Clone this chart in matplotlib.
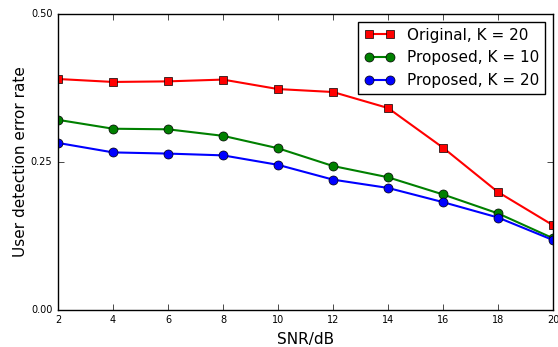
import numpy as np
from matplotlib import pyplot as plt

snr = [2, 4, 6, 8, 10, 12, 14, 16, 18, 20]
original_k20 = [0.390, 0.385, 0.386, 0.389, 0.373, 0.368, 0.341, 0.274, 0.199, 0.143]
proposed_k10 = [0.321, 0.306, 0.305, 0.294, 0.273, 0.243, 0.224, 0.195, 0.163, 0.121]
proposed_k20 = [0.282, 0.266, 0.264, 0.261, 0.245, 0.220, 0.206, 0.182, 0.156, 0.118]
y_ticks = [0.00, 0.25, 0.50]

plt.style.use('classic')
fig = plt.figure(figsize=(5.58, 3.47), dpi=100, facecolor='white')
ax = fig.add_axes([0.104, 0.107, 0.887, 0.853])

ax.plot(snr, original_k20, 'r-s', lw=1.5, ms=6, mec='k', label='Original, K = 20')
ax.plot(snr, proposed_k10, 'g-o', lw=1.5, ms=6.5, mec='k', label='Proposed, K = 10')
ax.plot(snr, proposed_k20, 'b-o', lw=1.5, ms=6.5, mec='k', label='Proposed, K = 20')

ax.set_xlim(2, 20)
ax.set_ylim(0, 0.5)
ax.set_xticks(snr)
ax.set_yticks(y_ticks)
ax.set_yticklabels([f"{t:.2f}" for t in y_ticks])
ax.tick_params(labelsize=7, direction='in', top=True, right=True)
ax.set_xlabel('SNR/dB', fontsize=11)
ax.set_ylabel('User detection error rate', fontsize=11, labelpad=2)

ax.legend(loc='upper right', fontsize=11, numpoints=2, borderaxespad=0.5,
          handlelength=2, fancybox=False)

fig.savefig('out.png', dpi=100, facecolor='white')
